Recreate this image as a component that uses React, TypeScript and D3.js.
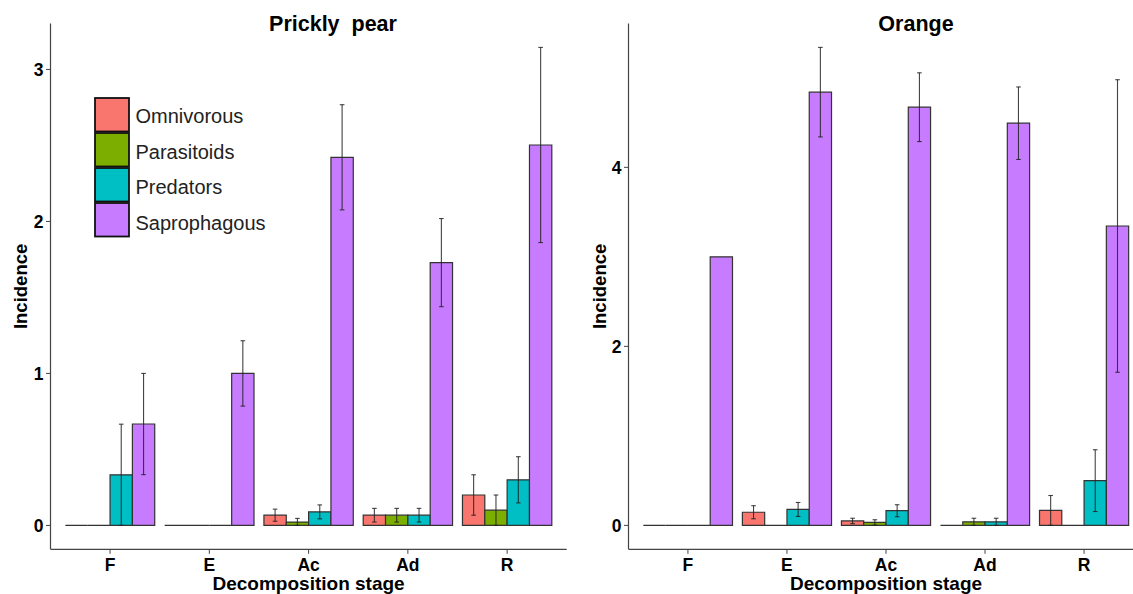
import React from "react";
import * as d3 from "d3";

const stages = ["F", "E", "Ac", "Ad", "R"];
const groups = ["Omnivorous", "Parasitoids", "Predators", "Saprophagous"];
const colors = ["#F8766D", "#7CAE00", "#00BFC4", "#C77CFF"];

// Prickly pear means and standard errors (per stage)
const pearOmni = [0, 0, 0.067, 0.067, 0.2];
const pearOmniSe = [0, 0, 0.04, 0.045, 0.133];
const pearPara = [0, 0, 0.022, 0.067, 0.1];
const pearParaSe = [0, 0, 0.024, 0.045, 0.1];
const pearPred = [0.333, 0, 0.089, 0.067, 0.3];
const pearPredSe = [0.333, 0, 0.046, 0.045, 0.152];
const pearSapro = [0.667, 1.0, 2.422, 1.729, 2.503];
const pearSaproSe = [0.333, 0.215, 0.346, 0.29, 0.642];

// Orange means and standard errors
const orangeOmni = [0, 0.147, 0.05, 0, 0.167];
const orangeOmniSe = [0, 0.073, 0.03, 0, 0.167];
const orangePara = [0, 0, 0.033, 0.04, 0];
const orangeParaSe = [0, 0, 0.03, 0.04, 0];
const orangePred = [0, 0.178, 0.164, 0.04, 0.5];
const orangePredSe = [0, 0.078, 0.067, 0.04, 0.345];
const orangeSapro = [3.0, 4.84, 4.672, 4.493, 3.345];
const orangeSaproSe = [0, 0.5, 0.384, 0.405, 1.634];

const pearTicks = [0, 1, 2, 3];
const orangeTicks = [0, 2, 4];

const FONT = "'Liberation Sans', Arial, Helvetica, sans-serif";

type PanelProps = {
  title: string;
  means: number[][];
  ses: number[][];
  ticks: number[];
  x0: number;
  x1: number;
  titleX: number;
  yTitleX: number;
  legend?: boolean;
};

function Panel({ title, means, ses, ticks, x0, x1, titleX, yTitleX, legend }: PanelProps) {
  const yBottom = 549.3;
  const yTop = 23.5;
  let maxV = 0;
  means.forEach((arr, g) => arr.forEach((v, i) => { maxV = Math.max(maxV, v + ses[g][i]); }));
  const pad = maxV * 0.05;
  const y = d3.scaleLinear().domain([-pad, maxV + pad]).range([yBottom, yTop]);
  const x = d3.scalePoint<string>().domain(stages).range([x0, x1]).padding(0.6);
  const step = x.step();
  const bw = (0.9 * step) / groups.length;
  const y0 = y(0);

  const bars: React.ReactNode[] = [];
  const errs: React.ReactNode[] = [];
  stages.forEach((s, i) => {
    const cx = x(s) as number;
    groups.forEach((g, j) => {
      const v = means[j][i];
      const se = ses[j][i];
      const bx0 = cx - 0.45 * step + j * bw;
      const bx1 = bx0 + bw;
      const yt = y(v);
      bars.push(
        <path
          key={`b-${s}-${g}`}
          d={`M${bx0},${y0}H${bx1}V${yt}H${bx0}Z`}
          fill={colors[j]}
          stroke="#333"
          strokeWidth={1.2}
        />
      );
      if (se > 0) {
        const mx = (bx0 + bx1) / 2;
        const lo = y(Math.max(0, v - se));
        const hi = y(v + se);
        errs.push(
          <g key={`e-${s}-${g}`} stroke="#222" strokeWidth={1.1} strokeOpacity={0.85}>
            <line x1={mx} x2={mx} y1={lo} y2={hi} />
            <line x1={mx - 2.3} x2={mx + 2.3} y1={lo} y2={lo} />
            <line x1={mx - 2.3} x2={mx + 2.3} y1={hi} y2={hi} />
          </g>
        );
      }
    });
  });

  const axisStart = x0;
  return (
    <g fontFamily={FONT}>
      <text
        x={titleX}
        y={31}
        textAnchor="middle"
        fontWeight="bold"
        fontSize={21.5}
        fill="#000"
        style={{ whiteSpace: "pre" }}
      >
        {title}
      </text>
      {bars}
      {errs}
      <line x1={axisStart} x2={axisStart} y1={yTop} y2={yBottom} stroke="#444" strokeWidth={1.2} />
      <line x1={axisStart} x2={x1} y1={yBottom} y2={yBottom} stroke="#444" strokeWidth={1.2} />
      {ticks.map((t) => (
        <g key={`yt-${t}`}>
          <line x1={axisStart - 4.5} x2={axisStart} y1={y(t)} y2={y(t)} stroke="#444" strokeWidth={1} />
          <text
            x={axisStart - 7}
            y={y(t)}
            dy="0.36em"
            textAnchor="end"
            fontWeight="bold"
            fontSize={17.5}
            fill="#000"
          >
            {t}
          </text>
        </g>
      ))}
      {stages.map((s) => (
        <g key={`xt-${s}`}>
          <line x1={x(s)} x2={x(s)} y1={yBottom} y2={yBottom + 4.5} stroke="#444" strokeWidth={1} />
          <text x={x(s)} y={570.5} textAnchor="middle" fontWeight="bold" fontSize={17.5} fill="#000">
            {s}
          </text>
        </g>
      ))}
      <text
        x={(x0 + x1) / 2}
        y={590}
        textAnchor="middle"
        fontWeight="bold"
        fontSize={19}
        fill="#000"
      >
        Decomposition stage
      </text>
      <text
        transform={`translate(${yTitleX},${(yTop + yBottom) / 2}) rotate(-90)`}
        textAnchor="middle"
        fontWeight="bold"
        fontSize={18.5}
        fill="#000"
      >
        Incidence
      </text>
      {legend && (
        <g>
          {groups.map((g, j) => (
            <g key={`lg-${g}`}>
              <rect
                x={95}
                y={98 + j * 35}
                width={34}
                height={33.5}
                fill={colors[j]}
                stroke="#111"
                strokeWidth={1.8}
              />
              <text x={135.5} y={123 + j * 35.5} fontSize={20} fill="#222">
                {g}
              </text>
            </g>
          ))}
        </g>
      )}
    </g>
  );
}

export default function App() {
  return (
    <svg
      width={1133}
      height={594}
      style={{ position: "absolute", left: 0, top: 0, background: "#fff" }}
    >
      <rect x={0} y={0} width={1133} height={594} fill="#fff" />
      <Panel
        title={"Prickly  pear"}
        means={[pearOmni, pearPara, pearPred, pearSapro]}
        ses={[pearOmniSe, pearParaSe, pearPredSe, pearSaproSe]}
        ticks={pearTicks}
        x0={50.5}
        x1={566.7}
        titleX={333}
        yTitleX={27}
        legend
      />
      <Panel
        title="Orange"
        means={[orangeOmni, orangePara, orangePred, orangeSapro]}
        ses={[orangeOmniSe, orangeParaSe, orangePredSe, orangeSaproSe]}
        ticks={orangeTicks}
        x0={628.5}
        x1={1143.5}
        titleX={916}
        yTitleX={606}
      />
    </svg>
  );
}
